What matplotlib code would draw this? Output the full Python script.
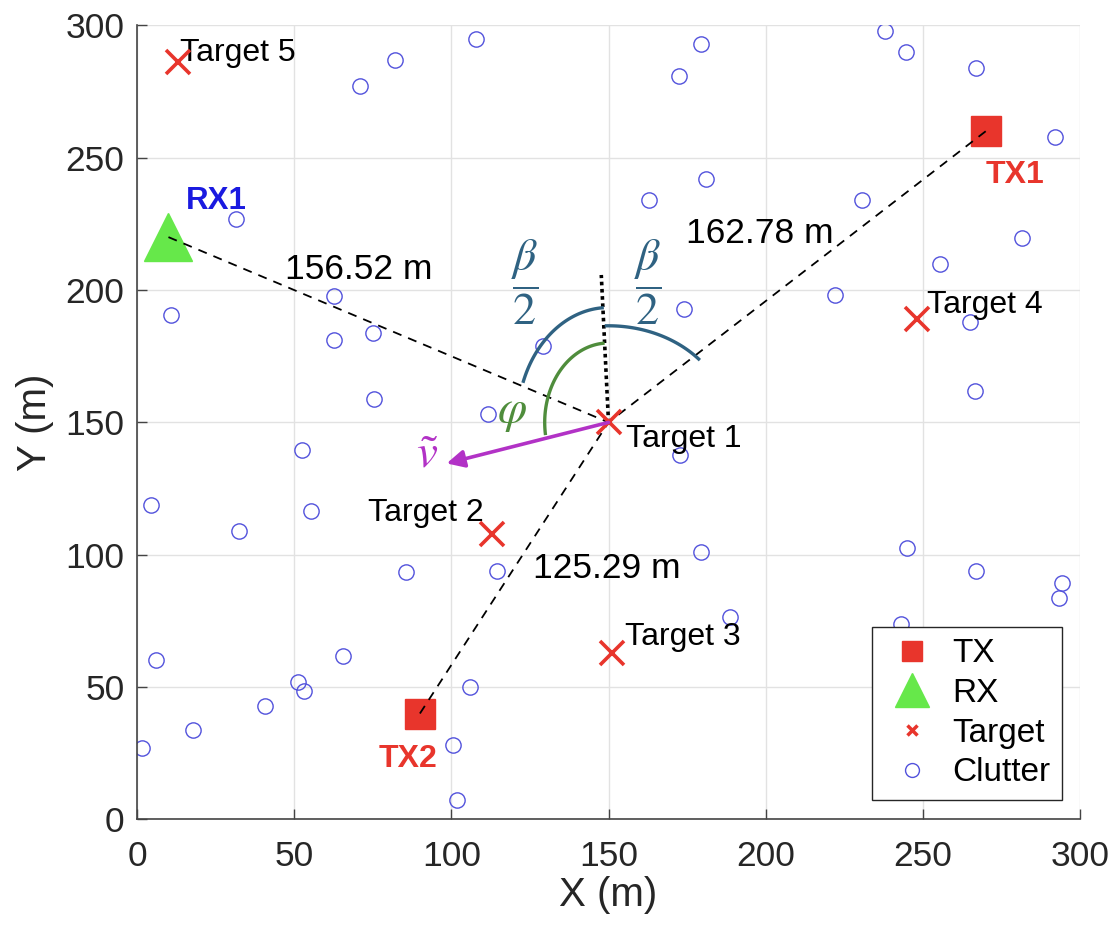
import numpy as np
import matplotlib
matplotlib.use('Agg')
import matplotlib.pyplot as plt
from matplotlib.lines import Line2D

plt.rcParams['font.family'] = ['Liberation Sans', 'DejaVu Sans']
plt.rcParams['mathtext.fontset'] = 'stix'

# --- scene data (m) ---
tx_x = [270, 90]
tx_y = [260, 40]
tx_names = ['TX1', 'TX2']
rx_x = [10]
rx_y = [220]
rx_names = ['RX1']
target_x = [150, 113, 151, 248, 13]
target_y = [150, 108, 63, 189, 286]
target_names = ['Target 1', 'Target 2', 'Target 3', 'Target 4', 'Target 5']

clutter_x = [108, 82, 71, 172.5, 179.5, 238, 244.5, 267, 292, 181,
             163, 230.5, 281.5, 255.5, 222, 265, 266.5, 174, 129, 111.7,
             172.8, 31.5, 10.8, 62.7, 62.7, 75, 75.4, 52.5, 55.4, 4.5,
             32.5, 85.6, 114.5, 179.4, 245, 267, 294.3, 293.3, 188.7, 243,
             6, 65.5, 51.2, 53, 106, 40.7, 17.8, 1.6, 100.5, 101.8]
clutter_y = [295, 287, 277, 281, 293, 298, 290, 284, 258, 242,
             234, 234, 219.5, 209.7, 198, 188, 162, 192.7, 179, 153,
             137.5, 226.7, 190.4, 197.6, 181, 183.6, 158.7, 139.4, 116.7, 118.6,
             109, 93.3, 94, 101, 102.4, 94, 89.5, 83.5, 76.3, 74,
             60.4, 61.6, 52, 48.4, 50, 43, 33.6, 26.8, 28, 7.2]

# velocity arrow end and bisector end (from Target 1)
vel_end = (98.5, 134.5)
bis_end = (147.7, 205.7)

red = '#e8352c'
green = '#66e84a'
blue_c = '#5252dc'
steel = '#2f6282'
dgreen = '#4f8d3c'
purple = '#b232c6'
dark = '#262626'

fig = plt.figure(figsize=(11.15, 9.27), dpi=100)
ax = fig.add_axes([0.1229, 0.1161, 0.8457, 0.8565])

t1x, t1y = target_x[0], target_y[0]

# dashed range lines to Target 1
for sx, sy in [(rx_x[0], rx_y[0]), (tx_x[0], tx_y[0]), (tx_x[1], tx_y[1])]:
    ax.plot([sx, t1x], [sy, t1y], color='k', ls=(0, (5, 4)), lw=1.3, zorder=4)

ax.plot(clutter_x, clutter_y, 'o', mfc='none', mec=blue_c, ms=11, mew=1.0, zorder=2)
ax.plot(tx_x, tx_y, 's', color=red, ms=22, zorder=3)
ax.plot(rx_x, rx_y, '^', color=green, ms=34, zorder=3)
ax.plot(target_x, target_y, 'x', color=red, ms=17, mew=2.6, zorder=5)

# bisector
ax.plot([t1x, bis_end[0]], [t1y, bis_end[1]], color='k', ls=(0, (1, 1)), lw=2.6, zorder=4)

# angle arcs (elliptical in data units)
def arc(rx, ry, a0, a1, color):
    t = np.radians(np.linspace(a0, a1, 120))
    ax.plot(t1x + rx * np.cos(t), t1y + ry * np.sin(t), color=color, lw=2.4, zorder=4)

arc(29, 43.4, 94, 159, steel)
arc(38, 36.5, 41, 91, steel)
arc(20.3, 30, 95, 188, dgreen)

# velocity vector
ax.annotate('', xy=vel_end, xytext=(t1x, t1y),
            arrowprops=dict(arrowstyle='-|>', color=purple, lw=2.6, mutation_scale=26,
                            shrinkA=0, shrinkB=0), zorder=5)

# labels
ax.text(155.7, 140.7, target_names[0], fontsize=23, color='k')
ax.text(110.3, 112.8, target_names[1], fontsize=23, color='k', ha='right')
ax.text(155.1, 65.9, target_names[2], fontsize=23, color='k')
ax.text(251.4, 191.3, target_names[3], fontsize=23, color='k')
ax.text(13.7, 286.5, target_names[4], fontsize=23, color='k')

ax.text(270.1, 240.3, tx_names[0], fontsize=23, color=red, fontweight='bold')
ax.text(76.8, 19.9, tx_names[1], fontsize=23, color=red, fontweight='bold')
ax.text(15.5, 230.5, rx_names[0], fontsize=22.5, color='#1a1ae0', fontweight='bold')

ax.text(47.2, 204, '156.52 m', fontsize=25.5, color='k')
ax.text(174.7, 217.9, '162.78 m', fontsize=25.5, color='k')
ax.text(126.1, 91.2, '125.29 m', fontsize=25.5, color='k')

ax.text(123.3, 203, r'$\dfrac{\beta}{2}$', fontsize=33, color=steel, ha='center', va='center')
ax.text(162.4, 203, r'$\dfrac{\beta}{2}$', fontsize=33, color=steel, ha='center', va='center')
ax.text(119.2, 154, r'$\varphi$', fontsize=34, color=dgreen, ha='center', va='center')
ax.text(92.5, 137.5, r'$\tilde{v}$', fontsize=34, color=purple, ha='center', va='center')

ax.set_xlim(0, 300)
ax.set_ylim(0, 300)
ax.set_xticks(np.arange(0, 301, 50))
ax.set_yticks(np.arange(0, 301, 50))
ax.grid(True, color='#e2e2e2', lw=1.0, zorder=0)
ax.set_axisbelow(True)
for s in ['top', 'right']:
    ax.spines[s].set_visible(False)
for s in ['left', 'bottom']:
    ax.spines[s].set_color('#444444')
    ax.spines[s].set_linewidth(1.2)
ax.tick_params(direction='in', length=7, width=1.0, colors='#444444',
               labelsize=25.5, labelcolor=dark)
ax.tick_params(axis='x', pad=15)
ax.tick_params(axis='y', pad=9)
ax.set_xlabel('X (m)', fontsize=29, color=dark, labelpad=2)
ax.set_ylabel('Y (m)', fontsize=29, color=dark, labelpad=8)

handles = [
    Line2D([], [], ls='none', marker='s', color=red, ms=15),
    Line2D([], [], ls='none', marker='^', color=green, ms=25),
    Line2D([], [], ls='none', marker='x', color=red, ms=7, mew=2.5),
    Line2D([], [], ls='none', marker='o', mfc='none', mec=blue_c, ms=10, mew=1.0),
]
leg = ax.legend(handles, ['TX', 'RX', 'Target', 'Clutter'], loc='lower right',
                bbox_to_anchor=(0.981, 0.0244), borderaxespad=0, fontsize=24,
                frameon=True, fancybox=False, edgecolor=dark, framealpha=1,
                labelspacing=0.26, handletextpad=0.38, borderpad=0.35, handlelength=1.67)
leg.get_frame().set_linewidth(1.0)

fig.savefig('out.png', dpi=100)
